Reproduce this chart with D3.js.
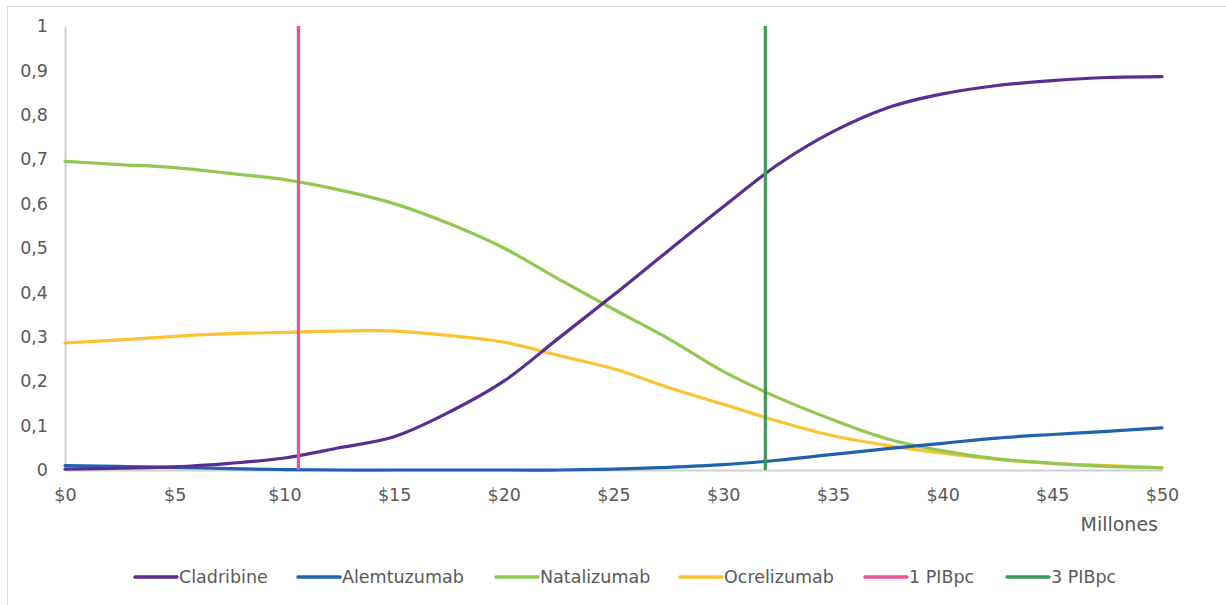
<!DOCTYPE html>
<html>
<head>
<meta charset="utf-8">
<script src="https://cdn.jsdelivr.net/npm/d3@7/dist/d3.min.js"></script>
<style>
  html, body { margin: 0; padding: 0; background: #fff; }
  svg { display: block; font-family: "DejaVu Sans", Verdana, sans-serif; }
</style>
</head>
<body>
<svg id="chart" width="1226" height="605"></svg>
<script>
// Willingness to pay (millions) on the x axis
const millions = [0, 2.5, 5, 7.5, 10, 12.5, 15, 17.5, 20, 22.5, 25, 27.5, 30, 32.5, 35, 37.5, 40, 42.5, 45, 47.5, 50];

// Probability of each treatment being cost-effective
const cladribine   = [0.002, 0.004, 0.007, 0.015, 0.027, 0.05, 0.075, 0.13, 0.2, 0.297, 0.394, 0.494, 0.593, 0.688, 0.762, 0.816, 0.847, 0.866, 0.877, 0.884, 0.886];
const alemtuzumab  = [0.01, 0.008, 0.006, 0.003, 0.001, 0.0, 0.0, 0.0, 0.0, 0.0, 0.002, 0.006, 0.012, 0.022, 0.035, 0.048, 0.06, 0.072, 0.08, 0.087, 0.095];
const natalizumab  = [0.695, 0.688, 0.681, 0.668, 0.654, 0.631, 0.6, 0.555, 0.5, 0.43, 0.362, 0.296, 0.222, 0.163, 0.113, 0.07, 0.043, 0.025, 0.015, 0.008, 0.005];
const ocrelizumab  = [0.286, 0.293, 0.301, 0.307, 0.31, 0.313, 0.313, 0.303, 0.288, 0.258, 0.228, 0.186, 0.148, 0.11, 0.077, 0.055, 0.038, 0.024, 0.015, 0.01, 0.005];

// GDP per capita thresholds (millions)
const thresholdNames  = ["1 PIBpc", "3 PIBpc"];
const thresholdValues = [10.64, 31.92];

const seriesNames = ["Cladribine", "Alemtuzumab", "Natalizumab", "Ocrelizumab"];
const xTicks = [0, 5, 10, 15, 20, 25, 30, 35, 40, 45, 50];
const yTicks = [0, 0.1, 0.2, 0.3, 0.4, 0.5, 0.6, 0.7, 0.8, 0.9, 1];

const colors = {
  "Cladribine": "#5a2d91",
  "Alemtuzumab": "#1f62ad",
  "Natalizumab": "#92c851",
  "Ocrelizumab": "#fcc231",
  "1 PIBpc": "#ec4f94",
  "3 PIBpc": "#3c9a5a"
};

const series = [cladribine, alemtuzumab, natalizumab, ocrelizumab].map((vals, i) => ({
  name: seriesNames[i],
  points: vals.map((v, j) => [millions[j], v])
}));

const svg = d3.select("#chart");
const textColor = "#595959";
const fontSize = 17.5;
const fontFamily = "'DejaVu Sans', Verdana, sans-serif";

// outer frame
svg.append("rect")
  .attr("x", 7.5).attr("y", 6.5)
  .attr("width", 1240).attr("height", 620)
  .attr("fill", "#fff").attr("stroke", "#d9d9d9").attr("stroke-width", 1);

const plot = { left: 65, right: 1162, top: 26, bottom: 470 };

const x = d3.scaleLinear().domain([0, 50]).range([plot.left, plot.right]);
const y = d3.scaleLinear().domain([0, 1]).range([plot.bottom, plot.top]);

// y axis
const yAxis = svg.append("g")
  .attr("transform", `translate(${plot.left},0)`)
  .call(d3.axisLeft(y).tickValues(yTicks).tickSize(0).tickPadding(17)
    .tickFormat(d => d3.format(".1~f")(d).replace(".", ",")));
yAxis.select(".domain").attr("stroke", "#d0d0d0").attr("stroke-width", 2);
yAxis.selectAll("text").attr("fill", textColor).style("font-size", fontSize + "px")
  .style("font-family", fontFamily);

// x axis
const xAxis = svg.append("g")
  .attr("transform", `translate(0,${plot.bottom})`)
  .call(d3.axisBottom(x).tickValues(xTicks).tickSize(0).tickPadding(19)
    .tickFormat(d => "$" + d));
xAxis.select(".domain").attr("stroke", "#d0d0d0").attr("stroke-width", 2);
xAxis.selectAll("text").attr("fill", textColor).style("font-size", fontSize + "px")
  .style("font-family", fontFamily);

svg.append("text")
  .attr("x", plot.right - 4).attr("y", 531)
  .attr("text-anchor", "end")
  .attr("fill", textColor).style("font-size", "19px")
  .text("Millones");

// probability curves
const line = d3.line()
  .x(d => x(d[0]))
  .y(d => y(Math.max(0, d[1])))
  .curve(d3.curveCatmullRom.alpha(0.5));

const drawOrder = ["Ocrelizumab", "Natalizumab", "Alemtuzumab", "Cladribine"];
svg.append("g").selectAll("path")
  .data(drawOrder.map(n => series.find(s => s.name === n)))
  .join("path")
  .attr("d", d => line(d.points))
  .attr("fill", "none")
  .attr("stroke", d => colors[d.name])
  .attr("stroke-width", 3.2)
  .attr("stroke-linejoin", "round")
  .attr("stroke-linecap", "round");

// threshold lines
svg.append("g").selectAll("line")
  .data(thresholdValues.map((v, i) => ({ name: thresholdNames[i], value: v })))
  .join("line")
  .attr("x1", d => x(d.value)).attr("x2", d => x(d.value))
  .attr("y1", y(1)).attr("y2", y(0))
  .attr("stroke", d => colors[d.name])
  .attr("stroke-width", 3.2);

// legend
const legendItems = seriesNames.concat(thresholdNames);
const legendStarts = [135, 298, 496, 680, 865, 1007];
const legend = svg.append("g");
legendItems.forEach((name, i) => {
  const g = legend.append("g").attr("transform", `translate(${legendStarts[i]},577)`);
  g.append("line")
    .attr("x1", 0).attr("x2", 42).attr("y1", 0).attr("y2", 0)
    .attr("stroke", colors[name]).attr("stroke-width", 3.5)
    .attr("stroke-linecap", "round");
  g.append("text")
    .attr("x", 44).attr("y", 0).attr("dy", "0.35em")
    .attr("fill", textColor).style("font-size", fontSize + "px")
    .text(name);
});
</script>
</body>
</html>
